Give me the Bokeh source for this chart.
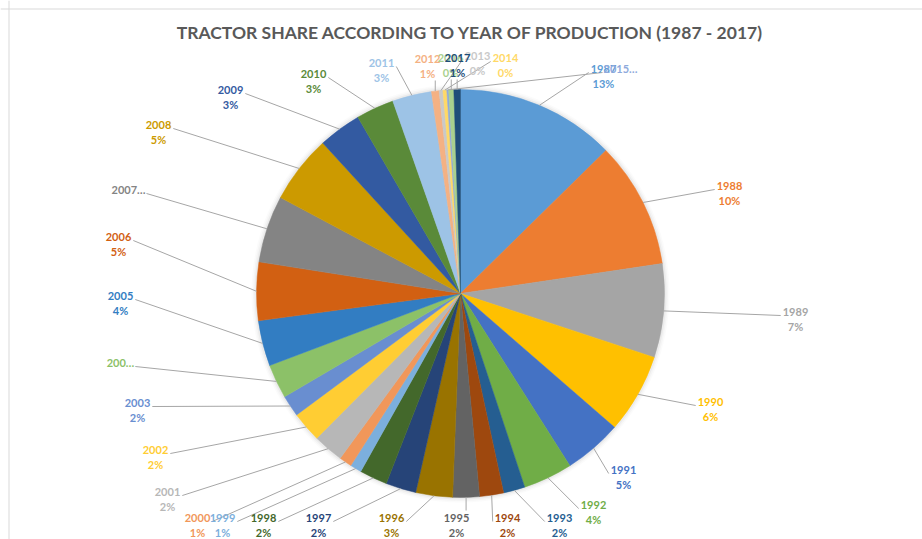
import math
from bokeh.plotting import figure
from bokeh.models import ColumnDataSource, Range1d, Span, Label
from bokeh.core.properties import value
from bokeh.embed import file_html
from bokeh.resources import INLINE

# ---------------- data ----------------
years = [1987, 1988, 1989, 1990, 1991, 1992, 1993, 1994, 1995, 1996,
         1997, 1998, 1999, 2000, 2001, 2002, 2003, 2004, 2005, 2006,
         2007, 2008, 2009, 2010, 2011, 2012, 2013, 2014, 2015, 2016, 2017]
shares = [12.6, 10.0, 7.4, 6.3, 4.6, 3.9, 1.7, 1.9, 2.1, 2.9,
          2.4, 2.2, 0.9, 1.0, 2.4, 2.4, 1.7, 2.7, 3.6, 4.6,
          5.3, 5.4, 3.4, 3.0, 3.1, 0.6, 0.3, 0.3, 0.15, 0.4, 0.52]
colors = ["#5B9BD5", "#ED7D31", "#A5A5A5", "#FFC000", "#4472C4", "#70AD47",
          "#255E91", "#9E480E", "#636363", "#997300", "#264478", "#43682B",
          "#7CAFDD", "#F1975A", "#B7B7B7", "#FFCD33", "#698ED0", "#8CC168",
          "#327DC2", "#D26012", "#848484", "#CC9A00", "#335AA1", "#5A8A39",
          "#9DC3E6", "#F4B183", "#C9C9C9", "#FFD966", "#8FAADC", "#A9D18E",
          "#1F4E79"]
truncated = {2004: "200\u2026", 2007: "2007\u2026", 2015: "2015\u2026"}
title_text = "TRACTOR SHARE ACCORDING TO YEAR OF PRODUCTION (1987 - 2017)"

# ---------------- layout ----------------
W, H = 922, 539
CX, CY, R = 460, 246, 204          # pie centre / radius (px)
# label placement, px offsets from pie centre (x right, y down)
label_offsets = [(143, -225), (269, -108), (335, 18), (250, 108), (163, 176),
                 (133, 211), (99, 224), (47, 224), (-4, 224), (-69, 224),
                 (-142, 224), (-197, 224), (-238, 224), (-263, 224), (-293, 198),
                 (-305, 156), (-323, 109), (-340, 69), (-340, 2), (-342, -57),
                 (-332, -104), (-302, -169), (-230, -204), (-147, -220), (-79, -231),
                 (-33, -235), (17, -238), (45, -236), (160, -225), (-10, -236),
                 (-3, -236)]
LINE_GAP = 15
CHAR_W = 6.4

total = sum(shares)
start_a, end_a, mids = [], [], []
acc = 0.0
for s in shares:
    t0 = 360.0 * acc / total
    acc += s
    t1 = 360.0 * acc / total
    start_a.append(math.pi / 2 - math.radians(t1))
    end_a.append(math.pi / 2 - math.radians(t0))
    mids.append(math.radians((t0 + t1) / 2))

wedges = ColumnDataSource(dict(x=[CX] * len(years), y=[CY] * len(years),
                               s=start_a, e=end_a, c=colors))

yr_x, yr_y, yr_t, pc_x, pc_y, pc_t, lc = [], [], [], [], [], [], []
x0, y0, x1, y1 = [], [], [], []
for i, yv in enumerate(years):
    dx, dy = label_offsets[i]
    lx, ly = CX + dx, CY - dy
    txt = truncated.get(yv, str(yv))
    yr_x.append(lx); yr_y.append(ly); yr_t.append(txt)
    has_pct = yv not in truncated
    if has_pct:
        pc_x.append(lx); pc_y.append(ly - LINE_GAP)
        pc_t.append("%d%%" % round(100.0 * shares[i] / total))
        lc.append(colors[i])
    px = CX + R * math.sin(mids[i])
    py = CY + R * math.cos(mids[i])
    half = CHAR_W * len(txt) / 2
    if abs(lx - px) < half:
        if ly > py:
            ex, ey = px, (ly - LINE_GAP - 7) if has_pct else ly - 7
        else:
            ex, ey = px, ly + 7
    elif lx > px:
        ex, ey = lx - half - 2, ly - 4
    else:
        ex, ey = lx + half + 2, ly - 4
    x0.append(px); y0.append(py); x1.append(ex); y1.append(ey)

years_src = ColumnDataSource(dict(x=yr_x, y=yr_y, t=yr_t, c=colors))
pct_src = ColumnDataSource(dict(x=pc_x, y=pc_y, t=pc_t, c=lc))
lead_src = ColumnDataSource(dict(x0=x0, y0=y0, x1=x1, y1=y1))

p = figure(width=W, height=H, x_range=Range1d(0, W), y_range=Range1d(0, H),
           output_backend="svg", toolbar_location=None, min_border=0,
           background_fill_color="white", border_fill_color="white")
p.axis.visible = False
p.grid.visible = False
p.outline_line_color = None

# chart-area border (top & left visible in reference)
p.add_layout(Span(location=H - 8.5, dimension="width", line_color="#D9D9D9", line_width=1))
p.add_layout(Span(location=8.5, dimension="height", line_color="#D9D9D9", line_width=1))

# soft shadow round the pie
for k, a in [(5, 0.03), (3.5, 0.05), (2, 0.08)]:
    p.circle(x=CX, y=CY, radius=R + k, fill_color="#808080", fill_alpha=a, line_color=None)

p.wedge(x="x", y="y", radius=R, start_angle="s", end_angle="e", source=wedges,
        fill_color="c", line_color="c", line_width=0.5)

p.segment(x0="x0", y0="y0", x1="x1", y1="y1", source=lead_src,
          line_color="#A6A6A6", line_width=1)

p.text(x="x", y="y", text="t", source=years_src, text_color="c",
       text_font=value("Lato"), text_font_style="bold", text_font_size="11px",
       text_align="center", text_baseline="middle")
p.text(x="x", y="y", text="t", source=pct_src, text_color="c",
       text_font=value("Lato"), text_font_style="bold", text_font_size="11px",
       text_align="center", text_baseline="middle")

p.add_layout(Label(x=470, y=H - 32, text=title_text, text_font="Lato",
                   text_font_style="bold", text_font_size="17.5px", text_color="#595959",
                   text_align="center", text_baseline="middle"))

open("out.html", "w").write(file_html(p, INLINE))
